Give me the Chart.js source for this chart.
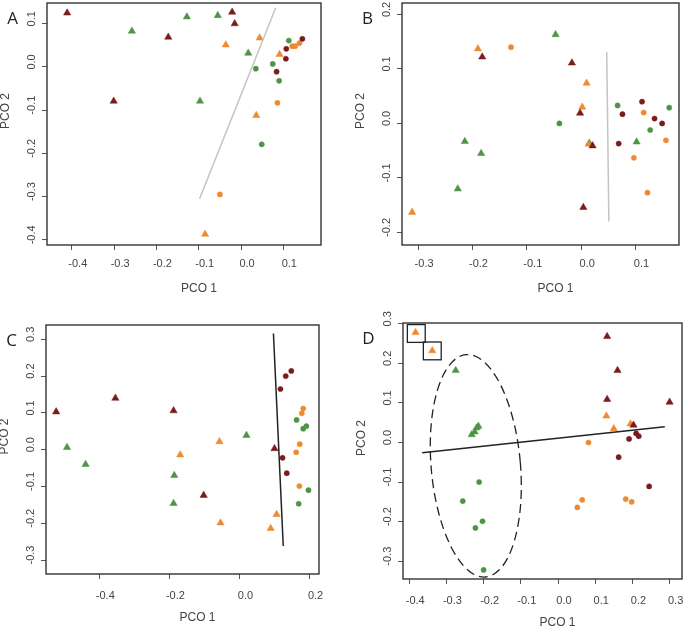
<!DOCTYPE html>
<html>
<head>
<meta charset="utf-8">
<script src="https://cdn.jsdelivr.net/npm/chart.js@4.4.1/dist/chart.umd.min.js"></script>
<style>
  html, body { margin: 0; padding: 0; background: #fff; }
  #fig { position: relative; width: 685px; height: 631px; overflow: hidden; }
  #fig canvas { position: absolute; }
</style>
</head>
<body>
<div id="fig">
  <canvas id="panelA" width="342" height="310" style="left:0px;top:0px"></canvas>
  <canvas id="panelB" width="343" height="310" style="left:342px;top:0px"></canvas>
  <canvas id="panelC" width="342" height="321" style="left:0px;top:310px"></canvas>
  <canvas id="panelD" width="343" height="321" style="left:342px;top:310px"></canvas>
</div>
<script>
// ================= PANEL A DATA =================
const aTriRed    = [[-0.411, 0.125], [-0.301, -0.079], [-0.172, 0.069], [-0.021, 0.127], [-0.015, 0.100]];
const aTriGreen  = [[-0.258, 0.083], [-0.128, 0.116], [-0.055, 0.119], [0.017, 0.032], [-0.097, -0.079]];
const aTriOrange = [[0.044, 0.067], [-0.036, 0.051], [0.091, 0.029], [0.036, -0.112], [-0.085, -0.387]];
const aDotRed    = [[0.145, 0.065], [0.107, 0.042], [0.106, 0.019], [0.084, -0.011]];
const aDotGreen  = [[0.113, 0.061], [0.075, 0.007], [0.035, -0.004], [0.090, -0.032], [0.049, -0.179]];
const aDotOrange = [[0.121, 0.048], [0.128, 0.048], [0.138, 0.055], [0.086, -0.083], [-0.050, -0.295]];
const aLine      = [[-0.098, -0.305], [0.082, 0.137]];
const aTicksX    = [-0.4, -0.3, -0.2, -0.1, 0.0, 0.1];
const aTicksY    = [-0.4, -0.3, -0.2, -0.1, 0.0, 0.1];

// ================= PANEL B DATA =================
const bTriRed    = [[-0.182, 0.122], [-0.017, 0.111], [-0.002, 0.019], [0.021, -0.041], [0.004, -0.154]];
const bTriGreen  = [[-0.047, 0.163], [-0.214, -0.033], [-0.184, -0.055], [-0.227, -0.120], [0.102, -0.034], [0.015, -0.036]];
const bTriOrange = [[-0.190, 0.137], [0.010, 0.074], [0.002, 0.030], [0.014, -0.038], [-0.311, -0.163]];
const bDotRed    = [[0.112, 0.040], [0.076, 0.017], [0.135, 0.009], [0.149, 0.000], [0.069, -0.037]];
const bDotGreen  = [[0.067, 0.033], [0.162, 0.029], [-0.040, 0.000], [0.127, -0.012]];
const bDotOrange = [[-0.129, 0.140], [0.115, 0.020], [0.156, -0.031], [0.097, -0.063], [0.122, -0.127]];
const bLine      = [[0.047, 0.131], [0.051, -0.180]];
const bTicksX    = [-0.3, -0.2, -0.1, 0.0, 0.1];
const bTicksY    = [-0.2, -0.1, 0.0, 0.1, 0.2];

// ================= PANEL C DATA =================
const cTriRed    = [[-0.523, 0.103], [-0.354, 0.140], [-0.188, 0.106], [-0.102, -0.124], [0.100, 0.003]];
const cTriGreen  = [[-0.492, 0.006], [-0.439, -0.040], [-0.186, -0.070], [-0.188, -0.146], [0.020, 0.039]];
const cTriOrange = [[-0.169, -0.014], [-0.057, 0.022], [-0.054, -0.199], [0.106, -0.176], [0.089, -0.214]];
const cDotRed    = [[0.148, 0.214], [0.132, 0.200], [0.117, 0.165], [0.123, -0.022], [0.135, -0.064]];
const cDotGreen  = [[0.163, 0.081], [0.191, 0.064], [0.182, 0.057], [0.197, -0.110], [0.169, -0.147]];
const cDotOrange = [[0.182, 0.112], [0.178, 0.099], [0.172, 0.015], [0.162, -0.007], [0.171, -0.099]];
const cLine      = [[0.097, 0.316], [0.125, -0.262]];
const cTicksX    = [-0.4, -0.2, 0.0, 0.2];
const cTicksY    = [-0.3, -0.2, -0.1, 0.0, 0.1, 0.2, 0.3];

// ================= PANEL D DATA =================
const dTriRed    = [[0.132, 0.268], [0.160, 0.182], [0.132, 0.109], [0.300, 0.102], [0.203, 0.044]];
const dTriGreen  = [[-0.275, 0.182], [-0.232, 0.020], [-0.224, 0.027], [-0.219, 0.037], [-0.214, 0.041]];
const dTriOrange = [[-0.383, 0.278], [-0.338, 0.232], [0.130, 0.067], [0.150, 0.035], [0.195, 0.047]];
const dDotRed    = [[0.191, 0.009], [0.210, 0.023], [0.217, 0.016], [0.163, -0.037], [0.245, -0.111]];
const dDotGreen  = [[-0.212, -0.100], [-0.256, -0.148], [-0.203, -0.199], [-0.222, -0.216], [-0.200, -0.322]];
const dDotOrange = [[0.082, 0.000], [0.065, -0.145], [0.052, -0.164], [0.182, -0.143], [0.198, -0.150]];
const dLine      = [[-0.365, -0.026], [0.287, 0.040]];
const dBoxes     = [[-0.405, 0.298, -0.357, 0.253], [-0.362, 0.254, -0.314, 0.209]];
const dEllipse   = [-0.221, -0.059, 0.120, 0.282, -5]; // cx, cy, rx, ry, tilt (deg)
const dTicksX    = [-0.4, -0.3, -0.2, -0.1, 0.0, 0.1, 0.2, 0.3];
const dTicksY    = [-0.3, -0.2, -0.1, 0.0, 0.1, 0.2, 0.3];

// ================= STYLE =================
const RED = "#7a1c1c";
const GREEN = "#4f9446";
const ORANGE = "#ee8a2f";
const TEXT = "#444";
const FONT = "'Liberation Sans', Arial, sans-serif";

const toXY = arr => arr.map(p => ({ x: p[0], y: p[1] }));

// ================= DECORATION PLUGIN =================
const panelDeco = {
  id: "panelDeco",
  afterDatasetsDraw(chart, args, opts) {
    const { ctx, chartArea: ca, scales: { x, y } } = chart;
    ctx.save();
    ctx.beginPath();
    ctx.rect(ca.left, ca.top, ca.width, ca.height);
    ctx.clip();
    ctx.strokeStyle = "#222";
    ctx.lineWidth = 1.3;
    (opts.boxes || []).forEach(b => {
      const x0 = x.getPixelForValue(b[0]), y0 = y.getPixelForValue(b[1]);
      const x1 = x.getPixelForValue(b[2]), y1 = y.getPixelForValue(b[3]);
      ctx.strokeRect(x0, y0, x1 - x0, y1 - y0);
    });
    if (opts.ellipse) {
      const [cx, cy, rx, ry, tilt] = opts.ellipse;
      const px = x.getPixelForValue(cx), py = y.getPixelForValue(cy);
      const prx = Math.abs(x.getPixelForValue(cx + rx) - px);
      const pry = Math.abs(y.getPixelForValue(cy + ry) - py);
      ctx.setLineDash([9, 5]);
      ctx.beginPath();
      ctx.ellipse(px, py, prx, pry, tilt * Math.PI / 180, 0, 2 * Math.PI);
      ctx.stroke();
      ctx.setLineDash([]);
    }
    ctx.restore();
  },
  afterDraw(chart, args, opts) {
    const { ctx, chartArea: ca } = chart;
    ctx.save();
    // frame
    ctx.strokeStyle = "#333";
    ctx.lineWidth = 1.4;
    ctx.strokeRect(ca.left, ca.top, ca.width, ca.height);

    // panel letter
    ctx.fillStyle = "#222";
    ctx.font = "17px 'Open Sans', sans-serif";
    ctx.textAlign = "center";
    ctx.textBaseline = "middle";
    ctx.fillText(opts.letter, ca.left - 34.5, ca.top + 16);

    // axis titles
    ctx.fillStyle = TEXT;
    ctx.font = "12px " + FONT;
    ctx.fillText("PCO 1", (ca.left + ca.right) / 2 + 15, ca.bottom + 43.5);
    ctx.translate(ca.left - 41.5, (ca.top + ca.bottom) / 2 - 13);
    ctx.rotate(-Math.PI / 2);
    ctx.fillText("PCO 2", 0, 0);
    ctx.restore();
  }
};

// ================= CHART BUILDER =================
function pointSet(data, color, style, radius) {
  return {
    data: toXY(data),
    pointStyle: style,
    pointRadius: radius,
    backgroundColor: color,
    borderColor: color,
    borderWidth: 0.5,
    showLine: false
  };
}

function makePanel(id, p) {
  const datasets = [
    { data: toXY(p.line), showLine: true, pointRadius: 0, borderColor: p.lineColor, borderWidth: 1.5, fill: false },
    pointSet(p.dotRed, RED, "circle", 2.6),
    pointSet(p.dotGreen, GREEN, "circle", 2.6),
    pointSet(p.dotOrange, ORANGE, "circle", 2.6),
    pointSet(p.triRed, RED, "triangle", 4.2),
    pointSet(p.triOrange, ORANGE, "triangle", 4.2),
    pointSet(p.triGreen, GREEN, "triangle", 4.2)
  ];

  new Chart(document.getElementById(id), {
    type: "scatter",
    data: { datasets },
    plugins: [panelDeco],
    options: {
      responsive: false,
      animation: false,
      events: [],
      layout: { autoPadding: false, padding: p.padding },
      plugins: {
        legend: { display: false },
        tooltip: { enabled: false },
        panelDeco: { letter: p.letter, boxes: p.boxes, ellipse: p.ellipse }
      },
      scales: {
        x: {
          type: "linear",
          min: p.rangeX[0],
          max: p.rangeX[1],
          afterBuildTicks: s => { s.ticks = p.ticksX.map(v => ({ value: v })); },
          afterFit: s => { s.height = p.xH; s.paddingLeft = 0; s.paddingRight = 0; },
          border: { display: false },
          grid: { drawOnChartArea: false, drawTicks: true, tickLength: 5, color: "#555", lineWidth: 1 },
          ticks: {
            autoSkip: false, maxRotation: 0, minRotation: 0,
            padding: p.xPad, labelOffset: 6,
            color: TEXT, font: { family: FONT, size: 11 },
            callback: v => Number(v).toFixed(1)
          }
        },
        y: {
          type: "linear",
          min: p.rangeY[0],
          max: p.rangeY[1],
          afterBuildTicks: s => { s.ticks = p.ticksY.map(v => ({ value: v })); },
          afterFit: s => { s.width = p.yW; s.paddingTop = 0; s.paddingBottom = 0; },
          border: { display: false },
          grid: { drawOnChartArea: false, drawTicks: true, tickLength: 5, color: "#555", lineWidth: 1 },
          ticks: {
            autoSkip: false, minRotation: 90, maxRotation: 90, crossAlign: "center",
            padding: 1, labelOffset: -5,
            color: TEXT, font: { family: FONT, size: 11 },
            callback: v => Number(v).toFixed(1)
          }
        }
      }
    }
  });
}

// ================= INIT =================
makePanel("panelA", {
  letter: "A",
  triRed: aTriRed, triGreen: aTriGreen, triOrange: aTriOrange,
  dotRed: aDotRed, dotGreen: aDotGreen, dotOrange: aDotOrange,
  line: aLine, lineColor: "#c4c4c4",
  ticksX: aTicksX, ticksY: aTicksY,
  rangeX: [-0.4586, 0.189], rangeY: [-0.412, 0.148],
  padding: { top: 3, right: 21, bottom: 0, left: 0 }, xH: 65, yW: 47, xPad: 7
});

makePanel("panelB", {
  letter: "B",
  triRed: bTriRed, triGreen: bTriGreen, triOrange: bTriOrange,
  dotRed: bDotRed, dotGreen: bDotGreen, dotOrange: bDotOrange,
  line: bLine, lineColor: "#c4c4c4",
  ticksX: bTicksX, ticksY: bTicksY,
  rangeX: [-0.3296, 0.180], rangeY: [-0.223, 0.221],
  padding: { top: 3, right: 6, bottom: 0, left: 0 }, xH: 65, yW: 60, xPad: 7
});

makePanel("panelC", {
  letter: "C",
  triRed: cTriRed, triGreen: cTriGreen, triOrange: cTriOrange,
  dotRed: cDotRed, dotGreen: cDotGreen, dotOrange: cDotOrange,
  line: cLine, lineColor: "#222",
  ticksX: cTicksX, ticksY: cTicksY,
  rangeX: [-0.552, 0.227], rangeY: [-0.338, 0.339],
  padding: { top: 15, right: 23, bottom: 0, left: 0 }, xH: 57, yW: 46, xPad: 10
});

makePanel("panelD", {
  letter: "D",
  triRed: dTriRed, triGreen: dTriGreen, triOrange: dTriOrange,
  dotRed: dDotRed, dotGreen: dDotGreen, dotOrange: dDotOrange,
  line: dLine, lineColor: "#222",
  ticksX: dTicksX, ticksY: dTicksY,
  rangeX: [-0.4167, 0.3333], rangeY: [-0.345, 0.302],
  padding: { top: 13, right: 3, bottom: 0, left: 0 }, xH: 52, yW: 61, xPad: 10,
  boxes: dBoxes, ellipse: dEllipse
});
</script>
</body>
</html>
